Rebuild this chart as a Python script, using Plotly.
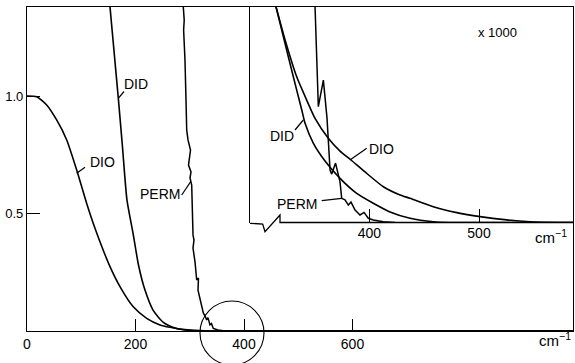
import plotly.graph_objects as go

# ---------------- data ----------------
# main panel: normalized intensity vs frequency shift (cm-1)
dio_x = [0, 17.9, 36.3, 54.7, 73.2, 91.6, 110.0, 128.5, 153.0, 171.4, 195.9, 220.6, 245.2, 263.6, 291, 319, 356, 1006]
dio_y = [1.0, 0.997, 0.962, 0.898, 0.813, 0.685, 0.543, 0.417, 0.274, 0.189, 0.103, 0.054, 0.026, 0.016, 0.006, 0.002, 0.0, 0.0]

did_x = [153.0, 168.3, 176.0, 184.3, 195.4, 205.5, 217.5, 232.3, 250.7, 272.8, 300.5, 337, 1006]
did_y = [1.379, 0.991, 0.783, 0.557, 0.417, 0.281, 0.174, 0.089, 0.038, 0.013, 0.002, 0.0, 0.0]

perm_x = [288.1, 289.8, 288.7, 291.2, 293.1, 294.4, 296.8, 301.4, 297.7, 302.3, 300.5, 303.6, 306.0, 307.8, 306.0,
          309.7, 312.8, 316.1, 315.2, 322.0, 325.0, 329.0, 331.2, 333.6, 337.3, 340.1, 343.4, 352.1, 365, 1006]
perm_y = [1.379, 1.323, 1.281, 1.153, 0.983, 0.855, 0.813, 0.770, 0.706, 0.677, 0.651, 0.621, 0.409, 0.387, 0.353,
          0.294, 0.217, 0.226, 0.174, 0.103, 0.077, 0.060, 0.047, 0.057, 0.026, 0.032, 0.011, 0.004, 0.0, 0.0]

# inset (x 1000)
dio_in_x = [314.9, 323.2, 333.8, 342.9, 350.5, 362.4, 373.3, 383.3, 396.1, 412.8, 428.0, 437.1, 458.3, 479.7, 500.9, 525.3, 546.5, 570.8, 585.7]
dio_in_y = [0.918, 0.777, 0.620, 0.521, 0.443, 0.360, 0.304, 0.266, 0.215, 0.152, 0.117, 0.103, 0.067, 0.042, 0.025, 0.011, 0.003, 0.0, 0.0]

did_in_x = [314.9, 321.6, 330.7, 338.4, 341.4, 349.0, 359.6, 373.3, 388.5, 403.6, 418.9, 437.1, 458.3, 473.5, 585.7]
did_in_y = [0.918, 0.791, 0.620, 0.479, 0.422, 0.337, 0.262, 0.188, 0.124, 0.082, 0.045, 0.018, 0.003, 0.0, 0.0]

perm_in_x = [350.5, 350.5, 353.5, 358.1, 361.4, 364.2, 365.7, 369.2, 373.3, 374.8, 377.8, 380.9, 383.3, 387.0, 391.5,
             395.2, 399.1, 403.6, 412.8, 423.4]
perm_in_y = [0.95, 0.918, 0.493, 0.606, 0.445, 0.223, 0.206, 0.253, 0.172, 0.103, 0.096, 0.074, 0.087, 0.053, 0.032,
             0.043, 0.018, 0.011, 0.003, 0.0]

main_tickvals = [0, 200, 400, 600]
main_ticktext = ["0", "200", "400", "600"]
y_tickvals = [0.5, 1.0]
y_ticktext = ["0.5", "1.0"]
inset_tickvals = [400, 500]
inset_ticktext = ["400", "500"]

# ---------------- figure ----------------
W, H = 575, 363
L, R, T, B = 27, 2, 7, 32
PW, PH = W - L - R, H - T - B


def PX(px):
    return (px - L) / PW


def PY(py):
    return (H - B - py) / PH


FONT = "Liberation Sans, Arial, Helvetica, sans-serif"
LW = 1.6
line = dict(color="black", width=LW)

fig = go.Figure()
fig.add_trace(go.Scatter(x=dio_x, y=dio_y, mode="lines", line=dict(shape="spline", smoothing=0.6, **line),
                         name="DIO", xaxis="x", yaxis="y"))
fig.add_trace(go.Scatter(x=did_x, y=did_y, mode="lines", line=dict(shape="spline", smoothing=0.6, **line),
                         name="DID", xaxis="x", yaxis="y"))
fig.add_trace(go.Scatter(x=perm_x, y=perm_y, mode="lines", line=dict(color="black", width=1.5),
                         name="PERM", xaxis="x", yaxis="y"))

fig.add_trace(go.Scatter(x=dio_in_x, y=dio_in_y, mode="lines", line=dict(shape="spline", smoothing=0.6, **line),
                         name="DIO x1000", xaxis="x2", yaxis="y2"))
fig.add_trace(go.Scatter(x=did_in_x, y=did_in_y, mode="lines", line=dict(shape="spline", smoothing=0.6, **line),
                         name="DID x1000", xaxis="x2", yaxis="y2"))
fig.add_trace(go.Scatter(x=perm_in_x, y=perm_in_y, mode="lines", line=dict(color="black", width=1.5),
                         name="PERM x1000", xaxis="x2", yaxis="y2"))

x_max = (W - R - L) / 0.5425
y_max = (H - B - T) / 235.0
inset_y_max = (222.5 - T) / 235.0

fig.update_layout(
    template="none",
    width=W, height=H,
    margin=dict(l=L, r=R, t=T, b=B, pad=0, autoexpand=False),
    paper_bgcolor="white", plot_bgcolor="white",
    showlegend=False,
    hovermode=False,
    font=dict(family=FONT, size=14, color="black"),
    xaxis=dict(range=[0, x_max], automargin=False, showgrid=False, zeroline=False, showline=True,
               linecolor="black", linewidth=1.3, mirror=True, ticks="inside", ticklen=12, tickwidth=1.3,
               tickcolor="black", tickvals=main_tickvals, ticktext=main_ticktext, tickfont=dict(size=14)),
    yaxis=dict(range=[0, y_max], automargin=False, showgrid=False, zeroline=False, showline=True,
               linecolor="black", linewidth=1.3, mirror=True, ticks="inside", ticklen=13, tickwidth=1.3,
               tickcolor="black", tickvals=y_tickvals, ticktext=y_ticktext, tickfont=dict(size=13)),
    xaxis2=dict(domain=[PX(250), 1], anchor="y2", range=[291.2, 585.7], automargin=False, showgrid=False,
                zeroline=False, showline=False, ticks="inside", ticklen=14, tickwidth=1.3, tickcolor="black",
                tickvals=inset_tickvals, ticktext=inset_ticktext, tickfont=dict(size=14)),
    yaxis2=dict(domain=[PY(222.5), 1], anchor="x2", range=[0, inset_y_max], automargin=False, showgrid=False,
                zeroline=False, showline=True, linecolor="black", linewidth=1.3, showticklabels=False, ticks=""),
)

shapes = []
# inset broken baseline
zig = [(250, 223.3), (262.7, 224), (265, 231.7), (280, 215), (280, 222.5), (573, 222.5)]
path = "M " + " L ".join(f"{PX(a):.5f},{PY(b):.5f}" for a, b in zig)
shapes.append(dict(type="path", path=path, xref="paper", yref="paper", line=dict(color="black", width=1.3)))

# leader lines (pixel endpoints)
leaders = [
    ((118.3, 98.3), (124, 91.5)),      # DID main
    ((76.7, 173.3), (85, 167.3)),      # DIO main
    ((181.7, 195), (190.7, 181.7)),    # PERM main
    ((295, 130), (303.3, 120)),        # DID inset
    ((350, 160), (366.7, 148.3)),      # DIO inset
    ((321.7, 200.7), (341.7, 198.3)),  # PERM inset
]
for (a, b), (c, d) in leaders:
    shapes.append(dict(type="line", xref="paper", yref="paper", x0=PX(a), y0=PY(b), x1=PX(c), y1=PY(d),
                       line=dict(color="black", width=1.2)))

# circle around the tail region
shapes.append(dict(type="circle", xref="paper", yref="paper", x0=PX(200), x1=PX(264), y0=PY(365), y1=PY(301),
                   line=dict(color="black", width=1.1)))
fig.update_layout(shapes=shapes)

annots = [
    ("DID", 136, 84, 14),
    ("DIO", 102.5, 162, 14),
    ("PERM", 159.5, 194, 14),
    ("DID", 281.5, 136, 14),
    ("DIO", 381, 149, 14),
    ("PERM", 296.5, 204, 14),
    ("x 1000", 497, 32, 13),
    ("cm<sup>−1</sup>", 555, 339, 15),
    ("cm<sup>−1</sup>", 551, 236, 15),
]
for text, ax_, ay_, fs in annots:
    fig.add_annotation(text=text, x=PX(ax_), y=PY(ay_), xref="paper", yref="paper", showarrow=False,
                       xanchor="center", yanchor="middle", font=dict(size=fs, family=FONT, color="black"))

fig.write_html("out.html", config={"displayModeBar": False},
               post_script="document.body.style.margin='0px';")
